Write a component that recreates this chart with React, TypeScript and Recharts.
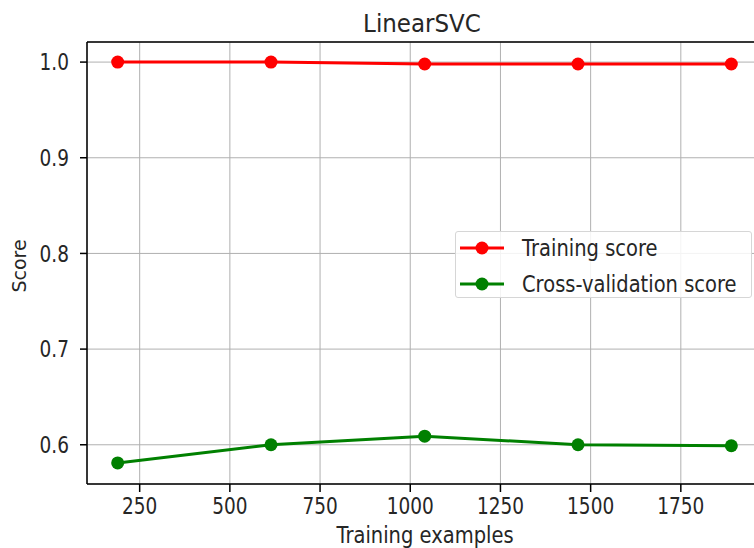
import React from "react";
import {
  LineChart,
  Line,
  XAxis,
  YAxis,
  CartesianGrid,
  ReferenceLine,
} from "recharts";

const trainSizes = [189, 614, 1040, 1465, 1890];
const trainingScores = [1.0, 1.0, 0.998, 0.998, 0.998];
const cvScores = [0.581, 0.6, 0.609, 0.6, 0.599];
const xTicks = [250, 500, 750, 1000, 1250, 1500, 1750];
const yTicks = [0.6, 0.7, 0.8, 0.9, 1.0];

const xDomain = [104, 1975];
const yDomain = [0.559, 1.021];

const data = trainSizes.map((n, i) => ({
  n,
  train: trainingScores[i],
  cv: cvScores[i],
}));

const font = "'DejaVu Sans', sans-serif";
const textColor = "#262626";
// the reference image is stretched a bit vertically
const stretch = 1.22;

const legendItems = [
  { label: "Training score", color: "#ff0000" },
  { label: "Cross-validation score", color: "#008000" },
];

function XTick(props: any) {
  const { x, y, payload } = props;
  return (
    <g transform={`translate(${x},${y}) scale(1,${stretch})`}>
      <text
        x={0}
        y={0}
        dy="0.71em"
        textAnchor="middle"
        fontFamily={font}
        fontSize={18.5}
        fill={textColor}
      >
        {payload.value}
      </text>
    </g>
  );
}

function YTick(props: any) {
  const { x, y, payload } = props;
  return (
    <g transform={`translate(${x},${y}) scale(1,${stretch})`}>
      <text
        x={0}
        y={0}
        dy="0.36em"
        textAnchor="end"
        fontFamily={font}
        fontSize={18.5}
        fill={textColor}
      >
        {Number(payload.value).toFixed(1)}
      </text>
    </g>
  );
}

function LegendBox() {
  return (
    <div
      style={{
        position: "absolute",
        left: 455,
        top: 231,
        width: 297,
        height: 67,
        boxSizing: "border-box",
        border: "1px solid #d6d6d6",
        borderRadius: 3,
        background: "rgba(255,255,255,0.85)",
        fontFamily: font,
        fontSize: 19.5,
        color: textColor,
      }}
    >
      {legendItems.map((it, i) => (
        <div
          key={it.label}
          style={{
            position: "absolute",
            left: 4,
            top: 16 + i * 36 - 12,
            height: 24,
            display: "flex",
            alignItems: "center",
            whiteSpace: "nowrap",
          }}
        >
          <svg width={44} height={16} style={{ marginRight: 18 }}>
            <line x1={0} x2={44} y1={8} y2={8} stroke={it.color} strokeWidth={3} />
            <circle cx={22} cy={8} r={6.5} fill={it.color} />
          </svg>
          <span style={{ display: "inline-block", transform: `scaleY(${stretch - 0.07})` }}>
            {it.label}
          </span>
        </div>
      ))}
    </div>
  );
}

function Labels() {
  return (
    <svg
      width={754}
      height={548}
      style={{ position: "absolute", left: 0, top: 0, pointerEvents: "none" }}
    >
      <g transform={`translate(422,32) scale(1,1.1)`}>
        <text textAnchor="middle" fontFamily={font} fontSize={23} fill={textColor}>
          LinearSVC
        </text>
      </g>
      <g transform={`translate(425,543) scale(1,${stretch - 0.07})`}>
        <text textAnchor="middle" fontFamily={font} fontSize={19.5} fill={textColor}>
          Training examples
        </text>
      </g>
      <g transform={`translate(26,266) rotate(-90)`}>
        <text textAnchor="middle" fontFamily={font} fontSize={19} fill={textColor}>
          Score
        </text>
      </g>
    </svg>
  );
}

export default function App() {
  return (
    <div
      style={{
        position: "absolute",
        left: 0,
        top: 0,
        width: 754,
        height: 548,
        overflow: "hidden",
        background: "#fff",
      }}
    >
      <style>{"body{margin:0}"}</style>
      <LineChart
        width={764}
        height={548}
        data={data}
        margin={{ top: 42, right: 2, bottom: 0, left: 0 }}
      >
        <CartesianGrid stroke="#b0b0b0" strokeWidth={1} />
        <XAxis
          dataKey="n"
          type="number"
          domain={xDomain}
          ticks={xTicks}
          allowDataOverflow
          height={64}
          stroke="#000"
          strokeWidth={1.5}
          tickSize={8}
          tickMargin={6}
          tick={<XTick />}
        />
        <YAxis
          type="number"
          domain={yDomain}
          ticks={yTicks}
          allowDataOverflow
          width={87}
          stroke="#000"
          strokeWidth={1.5}
          tickSize={7}
          tickMargin={11}
          tick={<YTick />}
        />
        <ReferenceLine y={yDomain[1]} stroke="#000" strokeWidth={1.5} />
        <Line
          dataKey="train"
          stroke="#ff0000"
          strokeWidth={3}
          dot={{ r: 6.5, fill: "#ff0000", stroke: "#ff0000", strokeWidth: 0 }}
          isAnimationActive={false}
        />
        <Line
          dataKey="cv"
          stroke="#008000"
          strokeWidth={3}
          dot={{ r: 6.5, fill: "#008000", stroke: "#008000", strokeWidth: 0 }}
          isAnimationActive={false}
        />
      </LineChart>
      <Labels />
      <LegendBox />
    </div>
  );
}
